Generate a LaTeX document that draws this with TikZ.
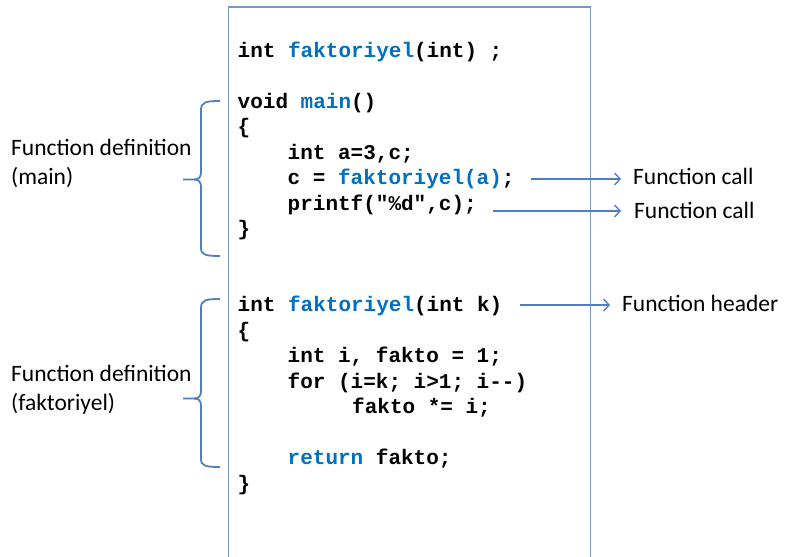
\documentclass[tikz,border=0pt]{standalone}
\usepackage{fontspec}
\usetikzlibrary{arrows.meta}
\newfontfamily\codefont{Liberation Mono}
\newfontfamily\lblfont{Carlito}
\definecolor{codeblue}{RGB}{0,112,192}
\definecolor{boxblue}{RGB}{118,150,204}
\definecolor{linkblue}{RGB}{79,127,192}
\newcommand\kw[1]{\textcolor{codeblue}{#1}}
\begin{document}
\begin{tikzpicture}[x=1pt,y=-1pt,
  codeline/.style={anchor=base west, inner sep=0pt, font=\codefont\bfseries\fontsize{21}{25}\selectfont},
  lbl/.style={anchor=base west, inner sep=0pt, font=\lblfont\fontsize{23.5}{29}\selectfont},
  boxline/.style={draw=boxblue, line width=1.6pt},
  bracepath/.style={draw=linkblue, line width=1.8pt},
  arr/.style={draw=linkblue, line width=1.4pt, -{Straight Barb[length=5.5pt,width=12pt]}}]
\useasboundingbox (0,0) rectangle (785,557);
% code panel (open at the bottom)
\draw[boxline] (228.5,557) -- (228.5,7) -- (590.5,7) -- (590.5,557);
% code lines
\node[codeline] (l1) at (237.5,57) {int \kw{faktoriyel}(int) ;};
\node[codeline] (l2) at (237.5,108) {void \kw{main}()};
\node[codeline] (l3) at (237.5,133.5) {\{};
\node[codeline] (l4) at (287.5,159) {int a=3,c;};
\node[codeline] (l5) at (287.5,184.5) {c = \kw{faktoriyel(a)};};
\node[codeline] (l6) at (287.5,210) {printf("\%d",c);};
\node[codeline] (l7) at (237.5,235) {\}};
\node[codeline] (m1) at (237.5,311.5) {int \kw{faktoriyel}(int k)};
\node[codeline] (m2) at (237.5,337) {\{};
\node[codeline] (m3) at (287.5,362.5) {int i, fakto = 1;};
\node[codeline] (m4) at (287.5,388) {for (i=k; i>1; i-\kern0pt-)};
\node[codeline] (m5) at (352,413.5) {fakto *= i;};
\node[codeline] (m6) at (287.5,464.5) {\kw{return} fakto;};
\node[codeline] (m7) at (237.5,490) {\}};
% left labels
\node[lbl] (d1a) at (11,155.5) {Function definition};
\node[lbl] (d1b) at (11,184.5) {(main)};
\node[lbl] (d2a) at (11,381.5) {Function definition};
\node[lbl] (d2b) at (11,410.5) {(faktoriyel)};
% braces
\draw[bracepath] (220,101) .. controls (206,101) and (201,102) .. (201,110)
  -- (201,172) .. controls (201,177) and (199,179.5) .. (194,179.5) -- (183,179.5);
\draw[bracepath] (194,179.5) .. controls (199,179.5) and (201,182) .. (201,187)
  -- (201,248) .. controls (201,255) and (206,256) .. (220,256);
\draw[bracepath] (220,299) .. controls (206,299) and (201,300) .. (201,308)
  -- (201,391) .. controls (201,396) and (199,398.5) .. (194,398.5) -- (183,398.5);
\draw[bracepath] (194,398.5) .. controls (199,398.5) and (201,401) .. (201,406)
  -- (201,459) .. controls (201,466) and (206,467) .. (220,467);
% right labels
\node[lbl] (c1) at (633,184.5) {Function call};
\node[lbl] (c2) at (634,218.5) {Function call};
\node[lbl] (h1) at (622,311.5) {Function header};
% arrows
\coordinate (a1s) at (531,179);
\coordinate (a1e) at (621,179);
\coordinate (a2s) at (493,211);
\coordinate (a2e) at (621,211);
\coordinate (a3s) at (520,305);
\coordinate (a3e) at (610,305);
\draw[arr] (a1s) -- (a1e);
\draw[arr] (a2s) -- (a2e);
\draw[arr] (a3s) -- (a3e);
\end{tikzpicture}
\end{document}
